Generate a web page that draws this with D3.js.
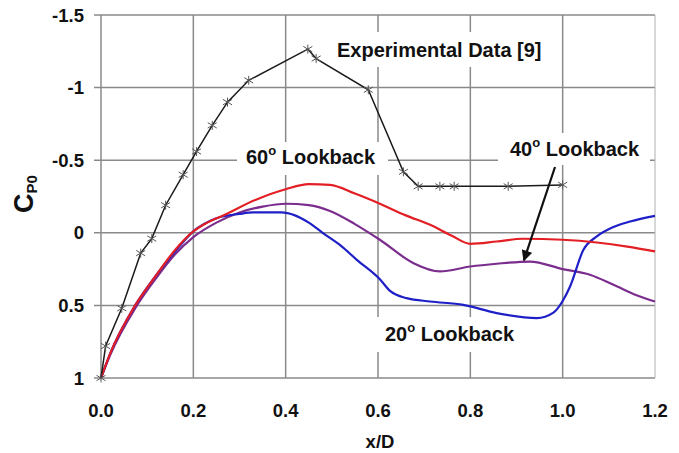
<!DOCTYPE html>
<html><head><meta charset="utf-8">
<script src="https://cdn.jsdelivr.net/npm/d3@7"></script>
<style>body{margin:0;background:#fff}svg{display:block}text{font-family:"Liberation Sans",Arial,sans-serif;font-weight:bold;fill:#111}</style>
</head><body><svg id="c" width="679" height="453"></svg>
<script>
const xTicks = [0, 0.2, 0.4, 0.6, 0.8, 1.0, 1.2];
const yTicks = [-1.5, -1, -0.5, 0, 0.5, 1];
const yTickLabels = ["-1.5", "-1", "-0.5", "0", "0.5", "1"];

const expX  = [0, 0.01, 0.045, 0.086, 0.11, 0.14, 0.178, 0.207, 0.241, 0.274, 0.32, 0.448, 0.466, 0.579, 0.655, 0.687, 0.734, 0.765, 0.882, 1.0];
const expCp = [1, 0.78, 0.52, 0.14, 0.04, -0.19, -0.40, -0.56, -0.74, -0.90, -1.05, -1.265, -1.20, -0.985, -0.42, -0.32, -0.32, -0.32, -0.32, -0.33];

const redX  = [0, 0.02, 0.074, 0.12, 0.16, 0.2, 0.23, 0.265, 0.337, 0.40, 0.45, 0.496, 0.55, 0.604, 0.66, 0.713, 0.76, 0.80, 0.857, 0.914, 1.0, 1.074, 1.14, 1.2];
const redCp = [1, 0.83, 0.5, 0.29, 0.12, -0.01, -0.07, -0.12, -0.23, -0.30, -0.335, -0.33, -0.27, -0.20, -0.12, -0.055, 0.02, 0.076, 0.06, 0.041, 0.048, 0.067, 0.095, 0.128];

const purX  = [0, 0.02, 0.074, 0.12, 0.16, 0.2, 0.25, 0.3, 0.35, 0.40, 0.45, 0.496, 0.55, 0.604, 0.677, 0.734, 0.80, 0.857, 0.929, 1.0, 1.059, 1.11, 1.16, 1.2];
const purCp = [1, 0.84, 0.52, 0.31, 0.15, 0.03, -0.07, -0.14, -0.18, -0.20, -0.19, -0.15, -0.06, 0.048, 0.209, 0.266, 0.232, 0.213, 0.198, 0.25, 0.289, 0.358, 0.43, 0.473];

const bluX  = [0, 0.02, 0.074, 0.12, 0.16, 0.2, 0.25, 0.3, 0.33, 0.39, 0.42, 0.45, 0.48, 0.52, 0.554, 0.604, 0.626, 0.662, 0.713, 0.785, 0.857, 0.944, 0.98, 1.0, 1.016, 1.045, 1.074, 1.11, 1.146, 1.2];
const bluCp = [1, 0.83, 0.5, 0.29, 0.13, -0.01, -0.10, -0.13, -0.14, -0.14, -0.12, -0.07, 0.0, 0.09, 0.186, 0.32, 0.40, 0.45, 0.473, 0.496, 0.553, 0.588, 0.55, 0.47, 0.37, 0.117, 0.025, -0.04, -0.078, -0.117];

const svg = d3.select("#c");
const L = 101, R = 655, T = 15, B = 378;
const x = d3.scaleLinear().domain([0, 1.2]).range([L, R]);
const y = d3.scaleLinear().domain([-1.5, 1]).range([T, B]);

const grid = svg.append("g").attr("stroke", "#8a8a8a").attr("stroke-width", 1.5);
yTicks.forEach(v => grid.append("line").attr("x1", L - 7).attr("x2", R).attr("y1", y(v)).attr("y2", y(v)));
xTicks.forEach(v => grid.append("line").attr("x1", x(v)).attr("x2", x(v)).attr("y1", T).attr("y2", B)
  .attr("stroke", v === 1.2 ? "#b0b0b0" : null).attr("stroke-width", v === 1.2 ? 1 : null));

// axis tick labels
svg.append("g").selectAll("text").data(yTicks).join("text")
  .attr("x", 84).attr("y", d => y(d) + 6.5).attr("text-anchor", "end").attr("font-size", 18.5)
  .text((d, i) => yTickLabels[i]);
svg.append("g").selectAll("text").data(xTicks).join("text")
  .attr("x", d => x(d)).attr("y", 417).attr("text-anchor", "middle").attr("font-size", 18.5)
  .text(d => d.toFixed(1));
svg.append("text").attr("x", 380).attr("y", 448).attr("text-anchor", "middle").attr("font-size", 18.5).text("x/D");
const yl = svg.append("text").attr("transform", "translate(33,213) rotate(-90)").attr("font-size", 27);
yl.append("tspan").text("C");
yl.append("tspan").attr("font-size", 15).attr("dy", 4).text("P0");

// label boxes (white, covering grid)
function label(txt, sup, rest, bx, by, bw, bh, tx, ty) {
  svg.append("rect").attr("x", bx).attr("y", by).attr("width", bw).attr("height", bh).attr("fill", "#fff");
  const t = svg.append("text").attr("x", tx).attr("y", ty).attr("font-size", 20);
  t.append("tspan").text(txt);
  if (sup) t.append("tspan").attr("font-size", 13).attr("dy", -9).text(sup);
  if (rest) t.append("tspan").attr("dy", sup ? 9 : 0).text(rest);
}
label("Experimental Data [9]", null, null, 330, 32, 222, 35, 337, 57);
label("60", "o", " Lookback", 237, 142, 151, 33, 246, 164);
label("40", "o", " Lookback", 498, 133, 152, 32, 510, 156);
label("20", "o", " Lookback", 375, 317, 145, 35, 385, 341);

const line = d3.line().x(d => x(d[0])).y(d => y(d[1])).curve(d3.curveMonotoneX);
function series(xs, ys, color) {
  svg.append("path").datum(xs.map((v, i) => [v, ys[i]])).attr("d", line)
    .attr("fill", "none").attr("stroke", color).attr("stroke-width", 2.2);
}
series(purX, purCp, "#7b2d8e");
series(bluX, bluCp, "#1f1fc8");
series(redX, redCp, "#e31e24");

// experimental
const expPts = expX.map((v, i) => [v, expCp[i]]);
svg.append("path").datum(expPts).attr("d", d3.line().x(d => x(d[0])).y(d => y(d[1])))
  .attr("fill", "none").attr("stroke", "#1a1a1a").attr("stroke-width", 1.5);
const star = svg.append("g").attr("stroke", "#555").attr("stroke-width", 1);
expPts.forEach(p => {
  const cx = x(p[0]), cy = y(p[1]), s = 4.5;
  star.append("path").attr("d", `M${cx},${cy - s}V${cy + s}M${cx - s},${cy - s * 0.6}L${cx + s},${cy + s * 0.6}M${cx - s},${cy + s * 0.6}L${cx + s},${cy - s * 0.6}`);
});

// arrow
const defs = svg.append("defs");
defs.append("marker").attr("id", "ah").attr("viewBox", "0 0 10 10").attr("refX", 9).attr("refY", 5)
  .attr("markerWidth", 5).attr("markerHeight", 5).attr("orient", "auto")
  .append("path").attr("d", "M0,0L10,5L0,10Z").attr("fill", "#111");
svg.append("line").attr("x1", 555).attr("y1", 167).attr("x2", x(0.916)).attr("y2", y(0.19))
  .attr("stroke", "#111").attr("stroke-width", 2.2).attr("marker-end", "url(#ah)");
</script></body></html>
